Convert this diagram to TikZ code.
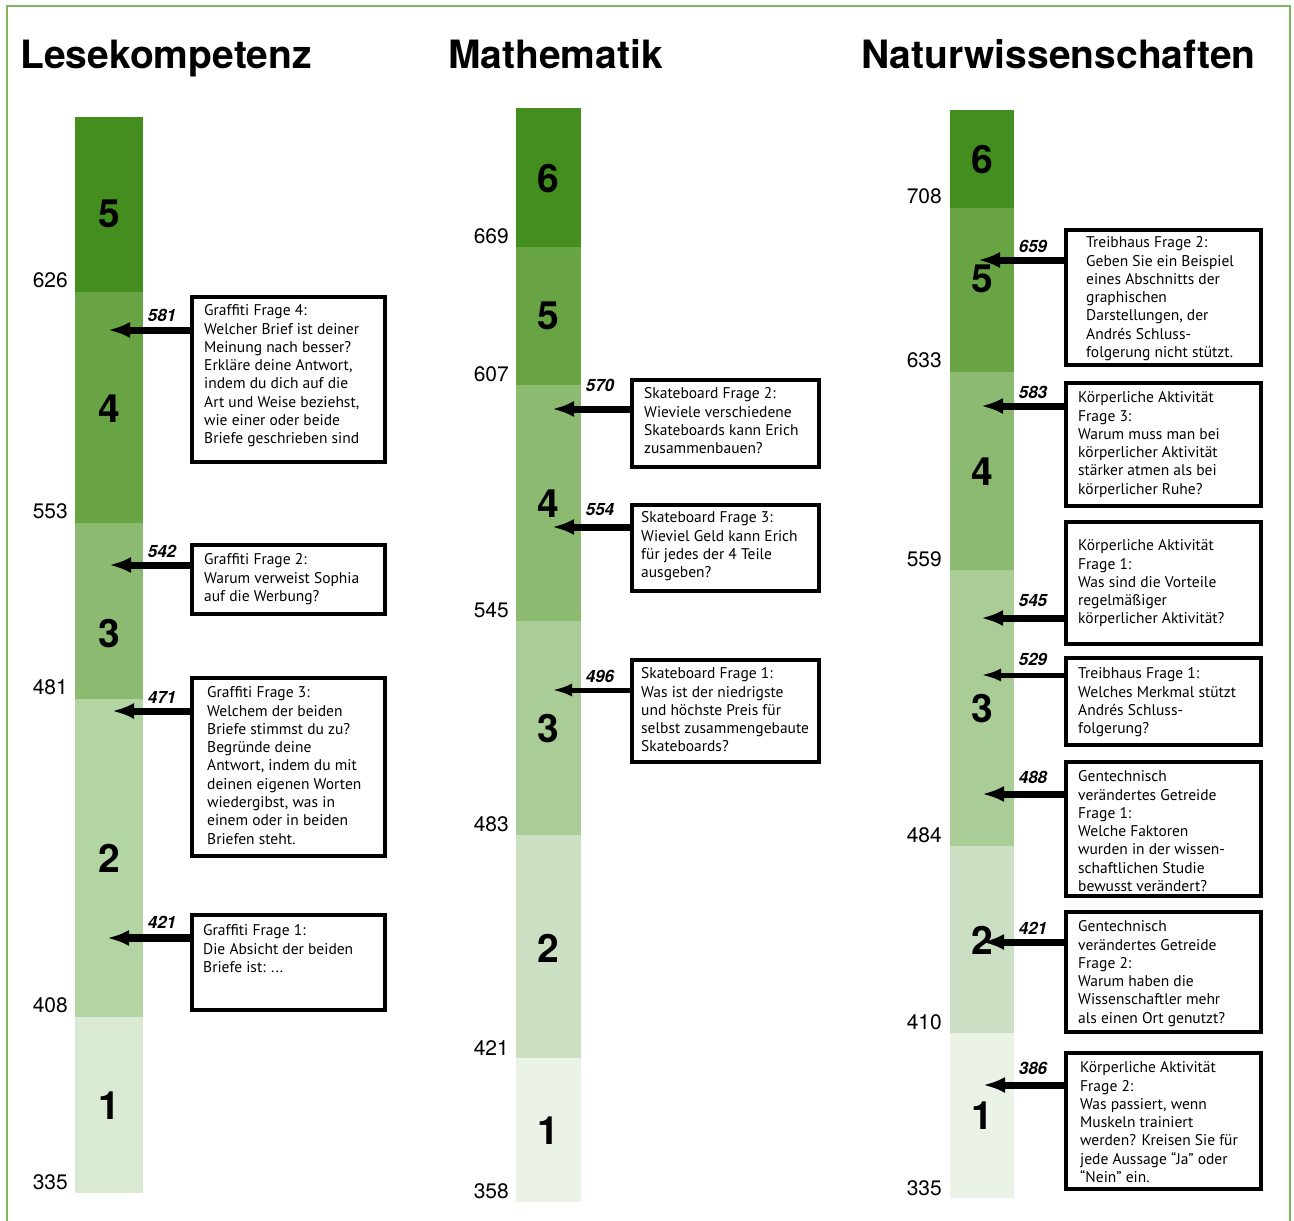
\documentclass[tikz,border=0pt]{standalone}
\usepackage{fontspec}
\setmainfont{TeX Gyre Heros}
\newfontfamily\boxfont{PT Sans}
\usepackage{tikz}
\usetikzlibrary{arrows.meta}
\usetikzlibrary{positioning}

\definecolor{frame_green}{RGB}{125,184,92}
\definecolor{lvl_dark}{RGB}{67,142,30}
\definecolor{lvl_mid}{RGB}{104,163,68}
\definecolor{lvl_a}{RGB}{139,186,112}
\definecolor{lvl_b}{RGB}{170,205,152}
\definecolor{lvl_c}{RGB}{179,212,163}
\definecolor{lvl_d}{RGB}{203,224,194}
\definecolor{lvl_e}{RGB}{218,233,210}
\definecolor{lvl_f}{RGB}{234,243,229}

\tikzstyle{title_text} = [
    anchor=base west,
    inner sep=0pt,
    font=\fontsize{39}{44}\selectfont\bfseries
]
\tikzstyle{score_label} = [
    anchor=east,
    inner sep=0pt,
    font=\fontsize{21}{24}\selectfont
]
\tikzstyle{level_num} = [
    inner sep=0pt,
    font=\fontsize{39}{44}\selectfont\bfseries
]
\tikzstyle{arrow_label} = [
    inner sep=0pt,
    font=\fontsize{17}{20}\selectfont\bfseries\itshape
]
\tikzstyle{question_box} = [
    rectangle,
    draw=black,
    line width=4pt,
    anchor=north west,
    inner sep=0pt
]
\tikzstyle{question_text} = [
    anchor=north west,
    align=left,
    inner sep=0pt,
    font=\boxfont\fontsize{15.5}{18.3}\selectfont
]
\tikzstyle{pointer} = [
    line width=7pt,
    -{Latex[length=22pt,width=16pt]}
]
\tikzstyle{thin_pointer} = [
    line width=5pt,
    -{Latex[length=20pt,width=13pt]}
]

\begin{document}
\begin{tikzpicture}[x=1pt, y=-1pt]
\useasboundingbox (0,0) rectangle (1294,1221);
% frame
\draw[frame_green, line width=2pt] (7,1225) -- (7,6) -- (1290,6) -- (1290,1225);

% titles
\node[title_text] (lese) at (20,68) {Lesekompetenz};
\node[title_text] (mathe) at (448,68) {Mathematik};
\node[title_text] (natur) at (861,68) {Naturwissenschaften};

% Lesekompetenz scale
\fill[lvl_dark] (75,117) rectangle (143,292);
\fill[lvl_mid] (75,292) rectangle (143,523);
\fill[lvl_a] (75,523) rectangle (143,699);
\fill[lvl_c] (75,699) rectangle (143,1017);
\fill[lvl_e] (75,1017) rectangle (143,1193);
\node[level_num] (r5) at (109,214) {5};
\node[level_num] (r4) at (109,409) {4};
\node[level_num] (r3) at (109,634) {3};
\node[level_num] (r2) at (109,858) {2};
\node[level_num] (r1) at (109,1106) {1};
\node[score_label] (r626) at (68,280) {626};
\node[score_label] (r553) at (68,511) {553};
\node[score_label] (r481) at (68,687) {481};
\node[score_label] (r408) at (68,1005) {408};
\node[score_label] (r335) at (68,1182) {335};

\node[question_box, minimum width=193, minimum height=165] (q581) at (190,295) {};
\node[question_text] (t581) at (204,304.5) {Graffiti Frage 4:\\Welcher Brief ist deiner\\Meinung nach besser?\\Erkläre deine Antwort,\\indem du dich auf die\\Art und Weise beziehst,\\wie einer oder beide\\Briefe geschrieben sind};
\node[question_box, minimum width=193, minimum height=69] (q542) at (190,543) {};
\node[question_text] (t542) at (204,553.5) {Graffiti Frage 2:\\Warum verweist Sophia\\auf die Werbung?};
\node[question_box, minimum width=193, minimum height=178] (q471) at (190,676) {};
\node[question_text] (t471) at (207,686.5) {Graffiti Frage 3:\\Welchem der beiden\\Briefe stimmst du zu?\\Begründe deine\\Antwort, indem du mit\\deinen eigenen Worten\\wiedergibst, was in\\einem oder in beiden\\Briefen steht.};
\node[question_box, minimum width=193, minimum height=95] (q421) at (190,913) {};
\node[question_text] (t421) at (203,924.5) {Graffiti Frage 1:\\Die Absicht der beiden\\Briefe ist: ...};

\coordinate (p581) at (108,330);
\coordinate (p542) at (109,565);
\coordinate (p471) at (112,711);
\coordinate (p421) at (107,938);
\draw[pointer] (q581.west |- p581) -- (p581);
\draw[pointer] (q542.west |- p542) -- (p542);
\draw[pointer] (q471.west |- p471) -- (p471);
\draw[pointer, line width=8.5pt] (q421.west |- p421) -- (p421);
\node[arrow_label] (n581) at (162,315) {581};
\node[arrow_label] (n542) at (162,551) {542};
\node[arrow_label] (n471) at (162,697) {471};
\node[arrow_label] (n421) at (162,922) {421};

% Mathematik scale
\fill[lvl_dark] (516,108) rectangle (581,247);
\fill[lvl_mid] (516,247) rectangle (581,385);
\fill[lvl_a] (516,385) rectangle (581,621);
\fill[lvl_b] (516,621) rectangle (581,835);
\fill[lvl_d] (516,835) rectangle (581,1058);
\fill[lvl_f] (516,1058) rectangle (581,1202);
\node[level_num] (m6) at (548,179) {6};
\node[level_num] (m5) at (548,316) {5};
\node[level_num] (m4) at (548,504) {4};
\node[level_num] (m3) at (548,729) {3};
\node[level_num] (m2) at (548,948) {2};
\node[level_num] (m1) at (548,1131) {1};
\node[score_label] (m669) at (509,236) {669};
\node[score_label] (m607) at (509,374) {607};
\node[score_label] (m545) at (509,610) {545};
\node[score_label] (m483) at (509,824) {483};
\node[score_label] (m421) at (509,1048) {421};
\node[score_label] (m358) at (509,1191) {358};

\node[question_box, minimum width=187, minimum height=87] (q570) at (630,378) {};
\node[question_text] (t570) at (644,387.5) {Skateboard Frage 2:\\Wieviele verschiedene\\Skateboards kann Erich\\zusammenbauen?};
\node[question_box, minimum width=187, minimum height=86] (q554) at (630,503) {};
\node[question_text] (t554) at (641,511.5) {Skateboard Frage 3:\\Wieviel Geld kann Erich\\für jedes der 4 Teile\\ausgeben?};
\node[question_box, minimum width=187, minimum height=102] (q496) at (630,658) {};
\node[question_text] (t496) at (641,667.5) {Skateboard Frage 1:\\Was ist der niedrigste\\und höchste Preis für\\selbst zusammengebaute\\Skateboards?};

\coordinate (p570) at (552,409);
\coordinate (p554) at (552,527);
\coordinate (p496) at (552,690);
\draw[pointer] (q570.west |- p570) -- (p570);
\draw[pointer] (q554.west |- p554) -- (p554);
\draw[thin_pointer] (q496.west |- p496) -- (p496);
\node[arrow_label] (n570) at (600,385) {570};
\node[arrow_label] (n554) at (600,510) {554};
\node[arrow_label] (n496) at (600,676) {496};

% Naturwissenschaften scale
\fill[lvl_dark] (950,110) rectangle (1014,208);
\fill[lvl_mid] (950,208) rectangle (1014,372);
\fill[lvl_a] (950,372) rectangle (1014,570);
\fill[lvl_b] (950,570) rectangle (1014,846);
\fill[lvl_d] (950,846) rectangle (1014,1033);
\fill[lvl_f] (950,1033) rectangle (1014,1198);
\node[level_num] (w6) at (982,160) {6};
\node[level_num] (w5) at (982,279) {5};
\node[level_num] (w4) at (982,472) {4};
\node[level_num] (w3) at (982,709) {3};
\node[level_num] (w2) at (982,940) {2};
\node[level_num] (w1) at (982,1116) {1};
\node[score_label] (w708) at (942,196) {708};
\node[score_label] (w633) at (942,360) {633};
\node[score_label] (w559) at (942,559) {559};
\node[score_label] (w484) at (942,835) {484};
\node[score_label] (w410) at (942,1022) {410};
\node[score_label] (w335) at (942,1188) {335};

\node[question_box, minimum width=195, minimum height=135] (q659) at (1064,228) {};
\node[question_text] (t659) at (1086,236.5) {Treibhaus Frage 2:\\Geben Sie ein Beispiel\\eines Abschnitts der\\graphischen\\Darstellungen, der\\Andrés Schluss-\\folgerung nicht stützt.};
\node[question_box, minimum width=195, minimum height=123] (q583) at (1064,381) {};
\node[question_text] (t583) at (1078,391.5) {Körperliche Aktivität\\Frage 3:\\Warum muss man bei\\körperlicher Aktivität\\stärker atmen als bei\\körperlicher Ruhe?};
\node[question_box, minimum width=195, minimum height=122] (q545) at (1064,520) {};
\node[question_text] (t545) at (1078,539.5) {Körperliche Aktivität\\Frage 1:\\Was sind die Vorteile\\regelmäßiger\\körperlicher Aktivität?};
\node[question_box, minimum width=195, minimum height=87] (q529) at (1064,656) {};
\node[question_text] (t529) at (1078,667.5) {Treibhaus Frage 1:\\Welches Merkmal stützt\\Andrés Schluss-\\folgerung?};
\node[question_box, minimum width=195, minimum height=134] (q488) at (1064,760) {};
\node[question_text] (t488) at (1078,770.5) {Gentechnisch\\verändertes Getreide\\Frage 1:\\Welche Faktoren\\wurden in der wissen-\\schaftlichen Studie\\bewusst verändert?};
\node[question_box, minimum width=195, minimum height=120] (q421b) at (1064,910) {};
\node[question_text] (t421b) at (1078,920.5) {Gentechnisch\\verändertes Getreide\\Frage 2:\\Warum haben die\\Wissenschaftler mehr\\als einen Ort genutzt?};
\node[question_box, minimum width=195, minimum height=136] (q386) at (1064,1051) {};
\node[question_text] (t386) at (1080,1061.5) {Körperliche Aktivität\\Frage 2:\\Was passiert, wenn\\Muskeln trainiert\\werden? Kreisen Sie für\\jede Aussage “Ja” oder\\“Nein” ein.};

\coordinate (p659) at (978,260);
\coordinate (p583) at (981,406);
\coordinate (p545) at (981,618);
\coordinate (p529) at (981,675);
\coordinate (p488) at (982,794);
\coordinate (p421b) at (982,942);
\coordinate (p386) at (983,1085);
\draw[pointer] (q659.west |- p659) -- (p659);
\draw[pointer] (q583.west |- p583) -- (p583);
\draw[pointer] (q545.west |- p545) -- (p545);
\draw[thin_pointer] (q529.west |- p529) -- (p529);
\draw[pointer] (q488.west |- p488) -- (p488);
\draw[pointer] (q421b.west |- p421b) -- (p421b);
\draw[pointer] (q386.west |- p386) -- (p386);
\node[arrow_label] (n659) at (1033,246) {659};
\node[arrow_label] (n583) at (1033,392) {583};
\node[arrow_label] (n545) at (1033,601) {545};
\node[arrow_label] (n529) at (1033,659) {529};
\node[arrow_label] (n488) at (1033,777) {488};
\node[arrow_label] (n421b) at (1033,928) {421};
\node[arrow_label] (n386) at (1033,1068) {386};
\end{tikzpicture}
\end{document}
